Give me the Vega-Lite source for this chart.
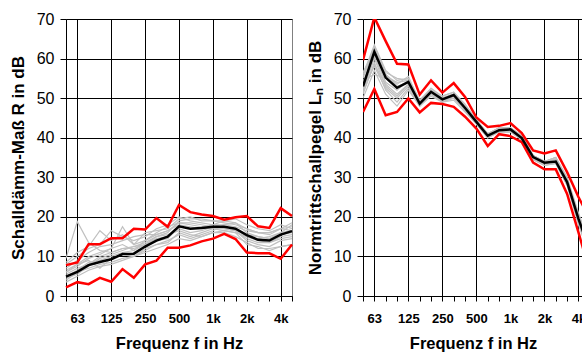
{
  "$schema": "https://vega.github.io/schema/vega-lite/v6.json",
  "padding": {"left": 8, "top": 10, "right": 0, "bottom": 0},
  "background": "white",
  "config": {
    "font": "Liberation Sans",
    "view": {"stroke": "#808080"},
    "axis": {"domainColor": "#000", "tickColor": "#000", "gridColor": "#000", "labelColor": "#000", "titleColor": "#000", "labelFont": "Liberation Sans", "titleFont": "Liberation Sans", "titleFontWeight": "bold", "titleFontSize": 17, "domainWidth": 1, "tickWidth": 1, "gridWidth": 1},
    "concat": {"spacing": 8}
  },
  "datasets": {
    "R": [
      {"s":"m","i":0,"v":4.9},{"s":"m","i":1,"v":6.1},{"s":"m","i":2,"v":7.8},{"s":"m","i":3,"v":8.6},{"s":"m","i":4,"v":9.3},{"s":"m","i":5,"v":10.6},{"s":"m","i":6,"v":10.7},{"s":"m","i":7,"v":12.5},{"s":"m","i":8,"v":14.0},{"s":"m","i":9,"v":15.0},{"s":"m","i":10,"v":17.6},{"s":"m","i":11,"v":17.0},{"s":"m","i":12,"v":17.2},{"s":"m","i":13,"v":17.5},{"s":"m","i":14,"v":17.5},{"s":"m","i":15,"v":17.0},{"s":"m","i":16,"v":15.4},{"s":"m","i":17,"v":14.2},{"s":"m","i":18,"v":14.0},{"s":"m","i":19,"v":15.5},{"s":"m","i":20,"v":16.4},
      {"s":"ro","i":0,"v":7.8},{"s":"ro","i":1,"v":8.5},{"s":"ro","i":2,"v":13.1},{"s":"ro","i":3,"v":13.1},{"s":"ro","i":4,"v":14.6},{"s":"ro","i":5,"v":14.6},{"s":"ro","i":6,"v":17.0},{"s":"ro","i":7,"v":16.8},{"s":"ro","i":8,"v":19.7},{"s":"ro","i":9,"v":17.5},{"s":"ro","i":10,"v":23.0},{"s":"ro","i":11,"v":21.2},{"s":"ro","i":12,"v":20.6},{"s":"ro","i":13,"v":20.2},{"s":"ro","i":14,"v":19.3},{"s":"ro","i":15,"v":19.9},{"s":"ro","i":16,"v":20.2},{"s":"ro","i":17,"v":17.6},{"s":"ro","i":18,"v":17.2},{"s":"ro","i":19,"v":22.2},{"s":"ro","i":20,"v":20.2},
      {"s":"ru","i":0,"v":2.2},{"s":"ru","i":1,"v":3.5},{"s":"ru","i":2,"v":3.0},{"s":"ru","i":3,"v":4.6},{"s":"ru","i":4,"v":3.6},{"s":"ru","i":5,"v":6.8},{"s":"ru","i":6,"v":4.6},{"s":"ru","i":7,"v":8.0},{"s":"ru","i":8,"v":8.9},{"s":"ru","i":9,"v":12.2},{"s":"ru","i":10,"v":12.2},{"s":"ru","i":11,"v":12.8},{"s":"ru","i":12,"v":13.8},{"s":"ru","i":13,"v":14.5},{"s":"ru","i":14,"v":15.7},{"s":"ru","i":15,"v":14.4},{"s":"ru","i":16,"v":11.0},{"s":"ru","i":17,"v":10.8},{"s":"ru","i":18,"v":10.8},{"s":"ru","i":19,"v":9.4},{"s":"ru","i":20,"v":13.0},
      {"s":"g1","i":0,"v":9.5},{"s":"g1","i":1,"v":18.8},{"s":"g1","i":2,"v":13.5},{"s":"g1","i":3,"v":11.5},{"s":"g1","i":4,"v":11},{"s":"g1","i":5,"v":12},{"s":"g1","i":6,"v":12},{"s":"g1","i":7,"v":13},{"s":"g1","i":8,"v":15},{"s":"g1","i":9,"v":16},{"s":"g1","i":10,"v":19},{"s":"g1","i":11,"v":19.5},{"s":"g1","i":12,"v":19.5},{"s":"g1","i":13,"v":19},{"s":"g1","i":14,"v":19},{"s":"g1","i":15,"v":18.5},{"s":"g1","i":16,"v":16},{"s":"g1","i":17,"v":15},{"s":"g1","i":18,"v":14.5},{"s":"g1","i":19,"v":16},{"s":"g1","i":20,"v":18},
      {"s":"g2","i":0,"v":8},{"s":"g2","i":1,"v":10},{"s":"g2","i":2,"v":12},{"s":"g2","i":3,"v":13},{"s":"g2","i":4,"v":16.5},{"s":"g2","i":5,"v":15},{"s":"g2","i":6,"v":14},{"s":"g2","i":7,"v":15},{"s":"g2","i":8,"v":17},{"s":"g2","i":9,"v":18},{"s":"g2","i":10,"v":20},{"s":"g2","i":11,"v":19},{"s":"g2","i":12,"v":18.5},{"s":"g2","i":13,"v":18},{"s":"g2","i":14,"v":18},{"s":"g2","i":15,"v":17.5},{"s":"g2","i":16,"v":16.5},{"s":"g2","i":17,"v":16},{"s":"g2","i":18,"v":15.5},{"s":"g2","i":19,"v":17},{"s":"g2","i":20,"v":17.5},
      {"s":"g3","i":0,"v":6},{"s":"g3","i":1,"v":8},{"s":"g3","i":2,"v":10},{"s":"g3","i":3,"v":11},{"s":"g3","i":4,"v":12},{"s":"g3","i":5,"v":17.5},{"s":"g3","i":6,"v":13},{"s":"g3","i":7,"v":14},{"s":"g3","i":8,"v":16},{"s":"g3","i":9,"v":17.5},{"s":"g3","i":10,"v":18.5},{"s":"g3","i":11,"v":18},{"s":"g3","i":12,"v":17.5},{"s":"g3","i":13,"v":18},{"s":"g3","i":14,"v":19},{"s":"g3","i":15,"v":19.5},{"s":"g3","i":16,"v":18},{"s":"g3","i":17,"v":17},{"s":"g3","i":18,"v":16.5},{"s":"g3","i":19,"v":18},{"s":"g3","i":20,"v":17},
      {"s":"g4","i":0,"v":5},{"s":"g4","i":1,"v":6.5},{"s":"g4","i":2,"v":8.5},{"s":"g4","i":3,"v":9},{"s":"g4","i":4,"v":10},{"s":"g4","i":5,"v":11},{"s":"g4","i":6,"v":11.5},{"s":"g4","i":7,"v":13},{"s":"g4","i":8,"v":14.5},{"s":"g4","i":9,"v":15},{"s":"g4","i":10,"v":17},{"s":"g4","i":11,"v":16},{"s":"g4","i":12,"v":16.5},{"s":"g4","i":13,"v":17.5},{"s":"g4","i":14,"v":17.5},{"s":"g4","i":15,"v":17},{"s":"g4","i":16,"v":15},{"s":"g4","i":17,"v":14},{"s":"g4","i":18,"v":13.5},{"s":"g4","i":19,"v":15},{"s":"g4","i":20,"v":15.5},
      {"s":"g5","i":0,"v":4},{"s":"g5","i":1,"v":6},{"s":"g5","i":2,"v":7},{"s":"g5","i":3,"v":8},{"s":"g5","i":4,"v":8.5},{"s":"g5","i":5,"v":9.5},{"s":"g5","i":6,"v":10},{"s":"g5","i":7,"v":11.5},{"s":"g5","i":8,"v":13},{"s":"g5","i":9,"v":13.5},{"s":"g5","i":10,"v":16},{"s":"g5","i":11,"v":15},{"s":"g5","i":12,"v":16},{"s":"g5","i":13,"v":17},{"s":"g5","i":14,"v":17},{"s":"g5","i":15,"v":16.5},{"s":"g5","i":16,"v":14},{"s":"g5","i":17,"v":13},{"s":"g5","i":18,"v":12.5},{"s":"g5","i":19,"v":14},{"s":"g5","i":20,"v":14.5},
      {"s":"g6","i":0,"v":7},{"s":"g6","i":1,"v":9},{"s":"g6","i":2,"v":11},{"s":"g6","i":3,"v":12.5},{"s":"g6","i":4,"v":13},{"s":"g6","i":5,"v":14},{"s":"g6","i":6,"v":15},{"s":"g6","i":7,"v":15.5},{"s":"g6","i":8,"v":15.5},{"s":"g6","i":9,"v":16.5},{"s":"g6","i":10,"v":18},{"s":"g6","i":11,"v":17.5},{"s":"g6","i":12,"v":17},{"s":"g6","i":13,"v":17},{"s":"g6","i":14,"v":16.5},{"s":"g6","i":15,"v":16},{"s":"g6","i":16,"v":15},{"s":"g6","i":17,"v":14.5},{"s":"g6","i":18,"v":15},{"s":"g6","i":19,"v":16},{"s":"g6","i":20,"v":16.5},
      {"s":"g7","i":0,"v":5.5},{"s":"g7","i":1,"v":7},{"s":"g7","i":2,"v":8},{"s":"g7","i":3,"v":10},{"s":"g7","i":4,"v":11},{"s":"g7","i":5,"v":12},{"s":"g7","i":6,"v":12.5},{"s":"g7","i":7,"v":13.5},{"s":"g7","i":8,"v":15},{"s":"g7","i":9,"v":15.5},{"s":"g7","i":10,"v":16.5},{"s":"g7","i":11,"v":15.5},{"s":"g7","i":12,"v":15},{"s":"g7","i":13,"v":16},{"s":"g7","i":14,"v":16.5},{"s":"g7","i":15,"v":16},{"s":"g7","i":16,"v":13},{"s":"g7","i":17,"v":12.5},{"s":"g7","i":18,"v":11.5},{"s":"g7","i":19,"v":12.5},{"s":"g7","i":20,"v":13},
      {"s":"g8","i":0,"v":6.5},{"s":"g8","i":1,"v":8},{"s":"g8","i":2,"v":9},{"s":"g8","i":3,"v":7},{"s":"g8","i":4,"v":9.5},{"s":"g8","i":5,"v":10.5},{"s":"g8","i":6,"v":10},{"s":"g8","i":7,"v":12},{"s":"g8","i":8,"v":13},{"s":"g8","i":9,"v":14},{"s":"g8","i":10,"v":15.5},{"s":"g8","i":11,"v":14.5},{"s":"g8","i":12,"v":15.5},{"s":"g8","i":13,"v":16.5},{"s":"g8","i":14,"v":18},{"s":"g8","i":15,"v":18.5},{"s":"g8","i":16,"v":17},{"s":"g8","i":17,"v":16},{"s":"g8","i":18,"v":16},{"s":"g8","i":19,"v":17},{"s":"g8","i":20,"v":18.5},
      {"s":"g9","i":0,"v":3.5},{"s":"g9","i":1,"v":5},{"s":"g9","i":2,"v":6.5},{"s":"g9","i":3,"v":7.5},{"s":"g9","i":4,"v":8},{"s":"g9","i":5,"v":9},{"s":"g9","i":6,"v":10},{"s":"g9","i":7,"v":11},{"s":"g9","i":8,"v":12},{"s":"g9","i":9,"v":13},{"s":"g9","i":10,"v":14.5},{"s":"g9","i":11,"v":14},{"s":"g9","i":12,"v":15},{"s":"g9","i":13,"v":16},{"s":"g9","i":14,"v":16},{"s":"g9","i":15,"v":15},{"s":"g9","i":16,"v":13.5},{"s":"g9","i":17,"v":12},{"s":"g9","i":18,"v":12},{"s":"g9","i":19,"v":12.5},{"s":"g9","i":20,"v":13},
      {"s":"g10","i":0,"v":8.5},{"s":"g10","i":1,"v":11},{"s":"g10","i":2,"v":12.5},{"s":"g10","i":3,"v":16.5},{"s":"g10","i":4,"v":14},{"s":"g10","i":5,"v":15.5},{"s":"g10","i":6,"v":13},{"s":"g10","i":7,"v":16},{"s":"g10","i":8,"v":16.5},{"s":"g10","i":9,"v":17},{"s":"g10","i":10,"v":19.5},{"s":"g10","i":11,"v":20},{"s":"g10","i":12,"v":19},{"s":"g10","i":13,"v":19},{"s":"g10","i":14,"v":18.5},{"s":"g10","i":15,"v":18},{"s":"g10","i":16,"v":17},{"s":"g10","i":17,"v":16},{"s":"g10","i":18,"v":16},{"s":"g10","i":19,"v":17},{"s":"g10","i":20,"v":16.5},
      {"s":"g11","i":0,"v":4.5},{"s":"g11","i":1,"v":5.5},{"s":"g11","i":2,"v":7.5},{"s":"g11","i":3,"v":9.5},{"s":"g11","i":4,"v":10.5},{"s":"g11","i":5,"v":11.5},{"s":"g11","i":6,"v":12.5},{"s":"g11","i":7,"v":13},{"s":"g11","i":8,"v":14},{"s":"g11","i":9,"v":14.5},{"s":"g11","i":10,"v":17.5},{"s":"g11","i":11,"v":17},{"s":"g11","i":12,"v":17.5},{"s":"g11","i":13,"v":18},{"s":"g11","i":14,"v":17.5},{"s":"g11","i":15,"v":17},{"s":"g11","i":16,"v":15.5},{"s":"g11","i":17,"v":15},{"s":"g11","i":18,"v":14.5},{"s":"g11","i":19,"v":15.5},{"s":"g11","i":20,"v":16},
      {"s":"g12","i":0,"v":6},{"s":"g12","i":1,"v":7.5},{"s":"g12","i":2,"v":9.5},{"s":"g12","i":3,"v":10.5},{"s":"g12","i":4,"v":12},{"s":"g12","i":5,"v":13},{"s":"g12","i":6,"v":11.5},{"s":"g12","i":7,"v":14},{"s":"g12","i":8,"v":15.5},{"s":"g12","i":9,"v":16.5},{"s":"g12","i":10,"v":18.5},{"s":"g12","i":11,"v":18.5},{"s":"g12","i":12,"v":18},{"s":"g12","i":13,"v":17.5},{"s":"g12","i":14,"v":17},{"s":"g12","i":15,"v":16.5},{"s":"g12","i":16,"v":14.5},{"s":"g12","i":17,"v":13.5},{"s":"g12","i":18,"v":13.5},{"s":"g12","i":19,"v":14.5},{"s":"g12","i":20,"v":15}
    ],
    "Ln": [
      {"s":"m","i":0,"v":53.0},{"s":"m","i":1,"v":61.7},{"s":"m","i":2,"v":55.2},{"s":"m","i":3,"v":52.6},{"s":"m","i":4,"v":54.1},{"s":"m","i":5,"v":48.6},{"s":"m","i":6,"v":51.6},{"s":"m","i":7,"v":49.7},{"s":"m","i":8,"v":50.8},{"s":"m","i":9,"v":47.5},{"s":"m","i":10,"v":44.0},{"s":"m","i":11,"v":40.5},{"s":"m","i":12,"v":41.9},{"s":"m","i":13,"v":42.1},{"s":"m","i":14,"v":39.9},{"s":"m","i":15,"v":35.1},{"s":"m","i":16,"v":33.7},{"s":"m","i":17,"v":34.0},{"s":"m","i":18,"v":28.8},{"s":"m","i":19,"v":19.5},{"s":"m","i":20,"v":11.5},
      {"s":"ro","i":0,"v":59.6},{"s":"ro","i":1,"v":70.4},{"s":"ro","i":2,"v":64.4},{"s":"ro","i":3,"v":58.7},{"s":"ro","i":4,"v":58.5},{"s":"ro","i":5,"v":50.9},{"s":"ro","i":6,"v":54.5},{"s":"ro","i":7,"v":51.4},{"s":"ro","i":8,"v":53.8},{"s":"ro","i":9,"v":50.3},{"s":"ro","i":10,"v":45.1},{"s":"ro","i":11,"v":42.7},{"s":"ro","i":12,"v":43.0},{"s":"ro","i":13,"v":43.7},{"s":"ro","i":14,"v":41.2},{"s":"ro","i":15,"v":36.8},{"s":"ro","i":16,"v":36.0},{"s":"ro","i":17,"v":36.8},{"s":"ro","i":18,"v":31.3},{"s":"ro","i":19,"v":25.0},{"s":"ro","i":20,"v":19.5},
      {"s":"ru","i":0,"v":46.5},{"s":"ru","i":1,"v":52.3},{"s":"ru","i":2,"v":45.7},{"s":"ru","i":3,"v":46.5},{"s":"ru","i":4,"v":49.9},{"s":"ru","i":5,"v":46.4},{"s":"ru","i":6,"v":48.8},{"s":"ru","i":7,"v":48.5},{"s":"ru","i":8,"v":47.8},{"s":"ru","i":9,"v":45.3},{"s":"ru","i":10,"v":42.3},{"s":"ru","i":11,"v":37.9},{"s":"ru","i":12,"v":40.9},{"s":"ru","i":13,"v":40.4},{"s":"ru","i":14,"v":38.9},{"s":"ru","i":15,"v":33.7},{"s":"ru","i":16,"v":32.0},{"s":"ru","i":17,"v":32.0},{"s":"ru","i":18,"v":25.8},{"s":"ru","i":19,"v":16.1},{"s":"ru","i":20,"v":6.0},
      {"s":"g1","i":0,"v":56},{"s":"g1","i":1,"v":63.5},{"s":"g1","i":2,"v":57},{"s":"g1","i":3,"v":54.5},{"s":"g1","i":4,"v":55},{"s":"g1","i":5,"v":49.5},{"s":"g1","i":6,"v":52.5},{"s":"g1","i":7,"v":50.5},{"s":"g1","i":8,"v":51.5},{"s":"g1","i":9,"v":48.5},{"s":"g1","i":10,"v":44.5},{"s":"g1","i":11,"v":41},{"s":"g1","i":12,"v":42.5},{"s":"g1","i":13,"v":42.5},{"s":"g1","i":14,"v":40.5},{"s":"g1","i":15,"v":35.5},{"s":"g1","i":16,"v":34},{"s":"g1","i":17,"v":35},{"s":"g1","i":18,"v":29.5},{"s":"g1","i":19,"v":20.5},{"s":"g1","i":20,"v":12.5},
      {"s":"g2","i":0,"v":55},{"s":"g2","i":1,"v":62.5},{"s":"g2","i":2,"v":56},{"s":"g2","i":3,"v":53.5},{"s":"g2","i":4,"v":55.5},{"s":"g2","i":5,"v":49},{"s":"g2","i":6,"v":52},{"s":"g2","i":7,"v":50},{"s":"g2","i":8,"v":51},{"s":"g2","i":9,"v":48},{"s":"g2","i":10,"v":44.5},{"s":"g2","i":11,"v":40.5},{"s":"g2","i":12,"v":42},{"s":"g2","i":13,"v":42.5},{"s":"g2","i":14,"v":40},{"s":"g2","i":15,"v":35.5},{"s":"g2","i":16,"v":34},{"s":"g2","i":17,"v":34.5},{"s":"g2","i":18,"v":29},{"s":"g2","i":19,"v":20},{"s":"g2","i":20,"v":12},
      {"s":"g3","i":0,"v":54},{"s":"g3","i":1,"v":60.5},{"s":"g3","i":2,"v":54},{"s":"g3","i":3,"v":52},{"s":"g3","i":4,"v":54.5},{"s":"g3","i":5,"v":48.5},{"s":"g3","i":6,"v":51.5},{"s":"g3","i":7,"v":49.5},{"s":"g3","i":8,"v":50.5},{"s":"g3","i":9,"v":47.5},{"s":"g3","i":10,"v":44},{"s":"g3","i":11,"v":40.5},{"s":"g3","i":12,"v":42},{"s":"g3","i":13,"v":42},{"s":"g3","i":14,"v":40},{"s":"g3","i":15,"v":35},{"s":"g3","i":16,"v":33.5},{"s":"g3","i":17,"v":34},{"s":"g3","i":18,"v":28.5},{"s":"g3","i":19,"v":19},{"s":"g3","i":20,"v":11},
      {"s":"g4","i":0,"v":52},{"s":"g4","i":1,"v":60},{"s":"g4","i":2,"v":53},{"s":"g4","i":3,"v":50.5},{"s":"g4","i":4,"v":53.5},{"s":"g4","i":5,"v":48},{"s":"g4","i":6,"v":51},{"s":"g4","i":7,"v":49},{"s":"g4","i":8,"v":50},{"s":"g4","i":9,"v":47},{"s":"g4","i":10,"v":43.5},{"s":"g4","i":11,"v":40},{"s":"g4","i":12,"v":41.5},{"s":"g4","i":13,"v":41.5},{"s":"g4","i":14,"v":39.5},{"s":"g4","i":15,"v":34.5},{"s":"g4","i":16,"v":33},{"s":"g4","i":17,"v":33.5},{"s":"g4","i":18,"v":28},{"s":"g4","i":19,"v":18.5},{"s":"g4","i":20,"v":10.5},
      {"s":"g5","i":0,"v":51},{"s":"g5","i":1,"v":59},{"s":"g5","i":2,"v":52},{"s":"g5","i":3,"v":49},{"s":"g5","i":4,"v":52.5},{"s":"g5","i":5,"v":48},{"s":"g5","i":6,"v":50.5},{"s":"g5","i":7,"v":49},{"s":"g5","i":8,"v":49.5},{"s":"g5","i":9,"v":46.5},{"s":"g5","i":10,"v":43.5},{"s":"g5","i":11,"v":40},{"s":"g5","i":12,"v":41.5},{"s":"g5","i":13,"v":41.5},{"s":"g5","i":14,"v":39.5},{"s":"g5","i":15,"v":34.5},{"s":"g5","i":16,"v":33},{"s":"g5","i":17,"v":33.5},{"s":"g5","i":18,"v":28},{"s":"g5","i":19,"v":18},{"s":"g5","i":20,"v":10},
      {"s":"g6","i":0,"v":56.5},{"s":"g6","i":1,"v":62},{"s":"g6","i":2,"v":55.5},{"s":"g6","i":3,"v":54},{"s":"g6","i":4,"v":54.5},{"s":"g6","i":5,"v":49.5},{"s":"g6","i":6,"v":52},{"s":"g6","i":7,"v":50.5},{"s":"g6","i":8,"v":51.5},{"s":"g6","i":9,"v":48},{"s":"g6","i":10,"v":44.5},{"s":"g6","i":11,"v":41},{"s":"g6","i":12,"v":42.5},{"s":"g6","i":13,"v":42.5},{"s":"g6","i":14,"v":40.5},{"s":"g6","i":15,"v":35.5},{"s":"g6","i":16,"v":34},{"s":"g6","i":17,"v":35},{"s":"g6","i":18,"v":30},{"s":"g6","i":19,"v":21},{"s":"g6","i":20,"v":13},
      {"s":"g7","i":0,"v":50},{"s":"g7","i":1,"v":57},{"s":"g7","i":2,"v":51},{"s":"g7","i":3,"v":48},{"s":"g7","i":4,"v":52},{"s":"g7","i":5,"v":48},{"s":"g7","i":6,"v":51},{"s":"g7","i":7,"v":49.5},{"s":"g7","i":8,"v":50},{"s":"g7","i":9,"v":47},{"s":"g7","i":10,"v":44},{"s":"g7","i":11,"v":40.5},{"s":"g7","i":12,"v":41.5},{"s":"g7","i":13,"v":42},{"s":"g7","i":14,"v":40},{"s":"g7","i":15,"v":35},{"s":"g7","i":16,"v":33.5},{"s":"g7","i":17,"v":34},{"s":"g7","i":18,"v":28.5},{"s":"g7","i":19,"v":19},{"s":"g7","i":20,"v":11},
      {"s":"g8","i":0,"v":53.5},{"s":"g8","i":1,"v":61},{"s":"g8","i":2,"v":56},{"s":"g8","i":3,"v":53},{"s":"g8","i":4,"v":54},{"s":"g8","i":5,"v":49},{"s":"g8","i":6,"v":52},{"s":"g8","i":7,"v":50},{"s":"g8","i":8,"v":51},{"s":"g8","i":9,"v":47.5},{"s":"g8","i":10,"v":43.5},{"s":"g8","i":11,"v":40},{"s":"g8","i":12,"v":42},{"s":"g8","i":13,"v":42},{"s":"g8","i":14,"v":39.5},{"s":"g8","i":15,"v":35},{"s":"g8","i":16,"v":34},{"s":"g8","i":17,"v":34.5},{"s":"g8","i":18,"v":29},{"s":"g8","i":19,"v":19.5},{"s":"g8","i":20,"v":11.5},
      {"s":"g9","i":0,"v":52.5},{"s":"g9","i":1,"v":58},{"s":"g9","i":2,"v":52.5},{"s":"g9","i":3,"v":50},{"s":"g9","i":4,"v":53},{"s":"g9","i":5,"v":48.5},{"s":"g9","i":6,"v":51},{"s":"g9","i":7,"v":49.5},{"s":"g9","i":8,"v":50.5},{"s":"g9","i":9,"v":47},{"s":"g9","i":10,"v":44},{"s":"g9","i":11,"v":40.5},{"s":"g9","i":12,"v":41.5},{"s":"g9","i":13,"v":42},{"s":"g9","i":14,"v":40},{"s":"g9","i":15,"v":35},{"s":"g9","i":16,"v":33.5},{"s":"g9","i":17,"v":34},{"s":"g9","i":18,"v":28.5},{"s":"g9","i":19,"v":19},{"s":"g9","i":20,"v":11},
      {"s":"g10","i":0,"v":55.5},{"s":"g10","i":1,"v":63},{"s":"g10","i":2,"v":56.5},{"s":"g10","i":3,"v":55},{"s":"g10","i":4,"v":54.5},{"s":"g10","i":5,"v":49},{"s":"g10","i":6,"v":52.5},{"s":"g10","i":7,"v":50},{"s":"g10","i":8,"v":51},{"s":"g10","i":9,"v":48},{"s":"g10","i":10,"v":44.5},{"s":"g10","i":11,"v":41},{"s":"g10","i":12,"v":42.5},{"s":"g10","i":13,"v":42.5},{"s":"g10","i":14,"v":40.5},{"s":"g10","i":15,"v":35.5},{"s":"g10","i":16,"v":34},{"s":"g10","i":17,"v":35},{"s":"g10","i":18,"v":29.5},{"s":"g10","i":19,"v":20.5},{"s":"g10","i":20,"v":12.5},
      {"s":"g11","i":0,"v":51.5},{"s":"g11","i":1,"v":58.5},{"s":"g11","i":2,"v":53.5},{"s":"g11","i":3,"v":51},{"s":"g11","i":4,"v":53.5},{"s":"g11","i":5,"v":48.5},{"s":"g11","i":6,"v":51.5},{"s":"g11","i":7,"v":49.5},{"s":"g11","i":8,"v":50.5},{"s":"g11","i":9,"v":47.5},{"s":"g11","i":10,"v":44},{"s":"g11","i":11,"v":40.5},{"s":"g11","i":12,"v":42},{"s":"g11","i":13,"v":42},{"s":"g11","i":14,"v":40},{"s":"g11","i":15,"v":35},{"s":"g11","i":16,"v":33.5},{"s":"g11","i":17,"v":34},{"s":"g11","i":18,"v":28.5},{"s":"g11","i":19,"v":19},{"s":"g11","i":20,"v":11},
      {"s":"g12","i":0,"v":54.5},{"s":"g12","i":1,"v":56},{"s":"g12","i":2,"v":55},{"s":"g12","i":3,"v":52.5},{"s":"g12","i":4,"v":54},{"s":"g12","i":5,"v":48},{"s":"g12","i":6,"v":51},{"s":"g12","i":7,"v":49},{"s":"g12","i":8,"v":50.5},{"s":"g12","i":9,"v":47},{"s":"g12","i":10,"v":43.5},{"s":"g12","i":11,"v":40},{"s":"g12","i":12,"v":41.5},{"s":"g12","i":13,"v":41.5},{"s":"g12","i":14,"v":39.5},{"s":"g12","i":15,"v":34.5},{"s":"g12","i":16,"v":33.5},{"s":"g12","i":17,"v":34},{"s":"g12","i":18,"v":28.5},{"s":"g12","i":19,"v":19.5},{"s":"g12","i":20,"v":11.5}
    ]
  },
  "hconcat": [
    {
      "width": 226,
      "height": 277,
      "data": {"name": "R"},
      "encoding": {
        "x": {"field": "i", "type": "quantitative", "scale": {"domain": [0, 20], "nice": false, "zero": false},
          "axis": {"values": [0,1,2,3,4,5,6,7,8,9,10,11,12,13,14,15,16,17,18,19,20],
            "labelExpr": "['','63','','','125','','','250','','','500','','','1k','','','2k','','','4k',''][datum.value]",
            "labelFontWeight": "bold", "labelFontSize": 13, "labelPadding": 11, "labelOverlap": false, "labelFlush": false,
            "tickSize": 5, "grid": true,
            "gridOpacity": {"condition": {"test": "indexof([1,4,7,10,13,16,19], datum.value) >= 0", "value": 1}, "value": 0},
            "title": "Frequenz f in Hz", "titleFontSize": 16.5, "titlePadding": 10}},
        "y": {"field": "v", "type": "quantitative", "scale": {"domain": [0, 70], "nice": false},
          "axis": {"values": [0,10,20,30,40,50,60,70], "labelFontSize": 16, "labelPadding": 6, "tickSize": 6, "grid": true,
            "title": "Schalldämm-Maß R in dB", "titlePadding": 9}},
        "detail": {"field": "s"}
      },
      "layer": [
        {"transform": [{"filter": "test(/^g/, datum.s)"}], "mark": {"type": "line", "color": "#c0c0c0", "strokeWidth": 1.2}},
        {"transform": [{"filter": "test(/^r/, datum.s)"}], "mark": {"type": "line", "color": "#ff0000", "strokeWidth": 2.5}},
        {"transform": [{"filter": "datum.s === 'm'"}], "mark": {"type": "line", "color": "#000000", "strokeWidth": 2.5}}
      ]
    },
    {
      "width": 220,
      "height": 277,
      "view": {"stroke": null},
      "data": {"name": "Ln"},
      "encoding": {
        "x": {"field": "i", "type": "quantitative", "scale": {"domain": [0, 19.4], "nice": false, "zero": false},
          "axis": {"values": [0,1,2,3,4,5,6,7,8,9,10,11,12,13,14,15,16,17,18,19],
            "labelExpr": "['','63','','','125','','','250','','','500','','','1k','','','2k','','','4k',''][datum.value]",
            "labelFontWeight": "bold", "labelFontSize": 13, "labelPadding": 11, "labelOverlap": false, "labelFlush": false,
            "tickSize": 5, "grid": true,
            "gridOpacity": {"condition": {"test": "indexof([1,4,7,10,13,16,19], datum.value) >= 0", "value": 1}, "value": 0},
            "title": "Frequenz f in Hz", "titleFontSize": 16.5, "titlePadding": 10}},
        "y": {"field": "v", "type": "quantitative", "scale": {"domain": [0, 70], "nice": false},
          "axis": {"values": [0,10,20,30,40,50,60,70], "labelFontSize": 16, "labelPadding": 6, "tickSize": 6, "grid": true,
            "title": "Normtrittschallpegel Lₙ in dB", "titlePadding": 9}},
        "detail": {"field": "s"}
      },
      "layer": [
        {"transform": [{"filter": "test(/^g/, datum.s)"}], "mark": {"type": "line", "color": "#c0c0c0", "strokeWidth": 1.2, "clip": true}},
        {"transform": [{"filter": "test(/^r/, datum.s)"}], "mark": {"type": "line", "color": "#ff0000", "strokeWidth": 2.5, "clip": true}},
        {"transform": [{"filter": "datum.s === 'm'"}], "mark": {"type": "line", "color": "#000000", "strokeWidth": 2.5, "clip": true}}
      ]
    }
  ]
}
